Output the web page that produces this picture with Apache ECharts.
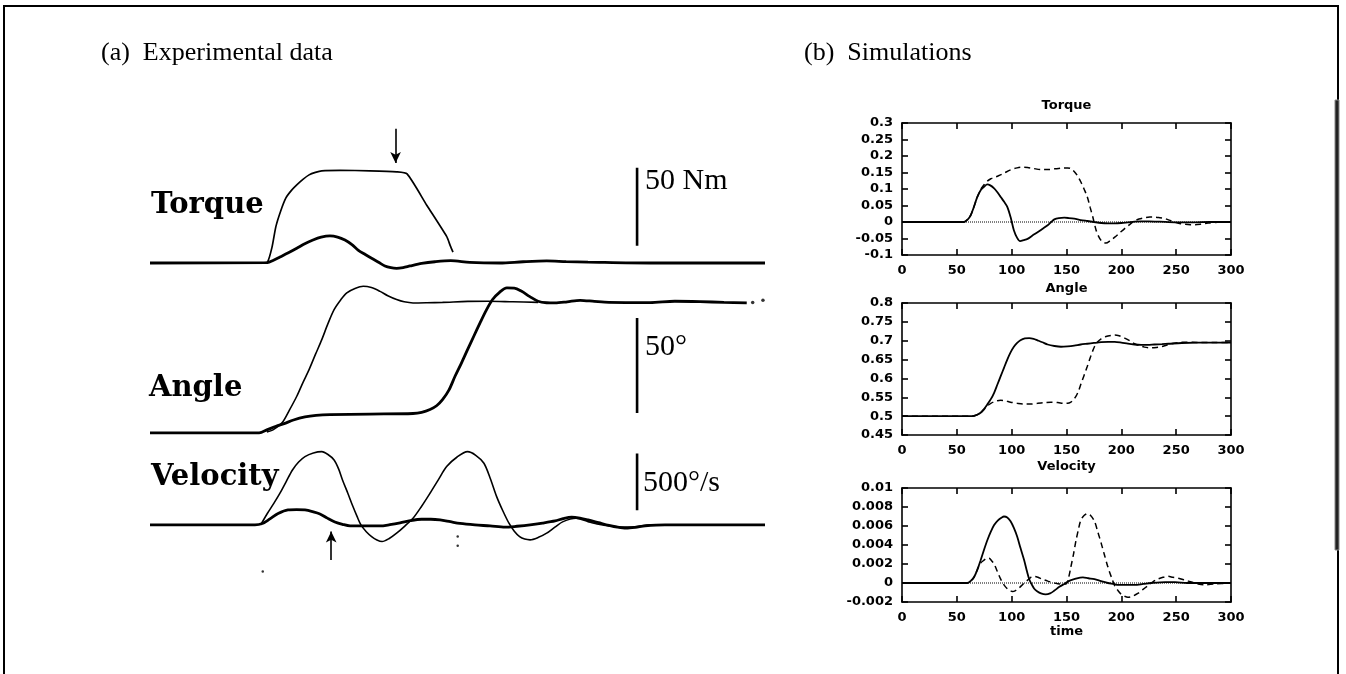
<!DOCTYPE html>
<html><head><meta charset="utf-8">
<script src="https://cdn.jsdelivr.net/npm/echarts@6/dist/echarts.min.js"></script>
<style>html,body{margin:0;padding:0;background:#fff}#c{width:1346px;height:674px}</style>
</head><body><div id="c"></div>
<script>
// ---------------- (b) Simulations : [time, value] ----------------
const simXTicks = [0, 50, 100, 150, 200, 250, 300];
const torqueTicks = [-0.1, -0.05, 0, 0.05, 0.1, 0.15, 0.2, 0.25, 0.3];
const angleTicks = [0.45, 0.5, 0.55, 0.6, 0.65, 0.7, 0.75, 0.8];
const velocityTicks = [-0.002, 0, 0.002, 0.004, 0.006, 0.008, 0.01];
const simZeroLine = [[0, 0], [300, 0]];

const simTorqueSolid = [[0,0],[56.5,0],[60,0.008],[62.6,0.02],[65.5,0.045],[68.7,0.076],[72,0.098],[74.8,0.107],[77.8,0.114],[80.5,0.111],[84,0.102],[87,0.09],[90,0.076],[93,0.062],[96,0.046],[99,0.015],[102,-0.025],[105,-0.048],[107.7,-0.058],[111,-0.055],[114.5,-0.051],[119,-0.041],[123.6,-0.031],[128,-0.021],[132.8,-0.01],[136,0.0],[138.9,0.008],[143,0.012],[148,0.013],[152,0.012],[157,0.010],[163,0.006],[169,0.003],[175,0],[181.6,-0.003],[188,-0.004],[194,-0.004],[200,-0.003],[206,-0.001],[212,0.001],[218,0.002],[225,0.002],[235,0.001],[249,-0.001],[265,-0.001],[280,0],[300,0]];
const simTorqueDashed = [[0,0],[56.5,0],[60,0.008],[62.6,0.02],[65.5,0.045],[68.7,0.076],[72,0.1],[74.8,0.113],[77.8,0.124],[81,0.131],[84,0.135],[88,0.14],[93,0.148],[99,0.158],[105,0.164],[110,0.166],[114.5,0.165],[120,0.162],[126.7,0.159],[133,0.159],[139,0.161],[145,0.163],[151,0.164],[154,0.162],[157,0.153],[160,0.14],[163,0.122],[166,0.1],[169,0.076],[171.5,0.045],[174,0.015],[177,-0.025],[179.5,-0.045],[181.6,-0.056],[184,-0.062],[186,-0.064],[190,-0.056],[194,-0.046],[198.5,-0.033],[203,-0.02],[207.5,-0.008],[212,0.003],[216,0.009],[221,0.013],[226,0.015],[230,0.015],[235,0.013],[240,0.01],[245,0.004],[249,-0.001],[254,-0.005],[258,-0.007],[263,-0.008],[267,-0.008],[273,-0.006],[279,-0.003],[288,-0.001],[300,0]];

const simAngleSolid = [[0,0.5],[64,0.5],[68,0.503],[71.7,0.509],[74.8,0.519],[77.8,0.531],[81,0.545],[84,0.562],[87,0.584],[90,0.606],[93,0.628],[96,0.65],[99,0.669],[102,0.684],[105,0.694],[108,0.701],[112,0.706],[116,0.707],[120,0.705],[123.6,0.701],[128,0.696],[132.8,0.690],[139,0.686],[145,0.684],[151,0.685],[157,0.687],[163,0.69],[169,0.692],[175,0.694],[181.6,0.696],[188,0.697],[194,0.697],[200,0.695],[206,0.692],[212,0.690],[218,0.689],[224,0.689],[230,0.69],[237,0.691],[243,0.692],[255,0.694],[270,0.695],[285,0.695],[300,0.695]];
const simAngleDashed = [[0,0.5],[64,0.5],[68,0.503],[71.7,0.509],[74.8,0.518],[77.8,0.527],[81,0.534],[84,0.538],[87,0.541],[90,0.542],[94,0.541],[99,0.537],[105,0.534],[111.4,0.532],[117,0.532],[123.6,0.534],[130,0.536],[135.8,0.537],[142,0.536],[148,0.534],[151,0.534],[154,0.537],[156.5,0.544],[158.7,0.553],[161,0.567],[163,0.584],[166,0.608],[169,0.632],[172,0.658],[175.5,0.684],[178.5,0.697],[181.6,0.705],[186,0.711],[190.8,0.714],[194,0.715],[198,0.713],[203,0.707],[207.5,0.700],[212,0.692],[216.5,0.687],[221,0.683],[227,0.681],[232,0.682],[236.5,0.684],[241,0.688],[245.7,0.692],[252,0.695],[258,0.696],[265,0.696],[273,0.695],[285,0.695],[300,0.695]];

const simVelocitySolid = [[0,0],[59.5,0],[62.5,0.0002],[65.6,0.0006],[68.7,0.0014],[71.7,0.0024],[74.8,0.0035],[77.8,0.0045],[81,0.0054],[84,0.0061],[87.5,0.0066],[91,0.0069],[93,0.007],[96,0.0069],[99,0.0065],[102,0.0058],[105,0.0049],[108,0.0037],[111.4,0.0024],[114,0.0012],[116,0.0004],[118.5,-0.0002],[120.6,-0.0006],[123.5,-0.0009],[126.7,-0.0011],[131,-0.0012],[135,-0.0011],[139,-0.0008],[143.5,-0.0004],[148,-0.0001],[152,0.0002],[157,0.0004],[165,0.0006],[170,0.0005],[175.5,0.0004],[181.5,0.0002],[187.7,0],[193,-0.0001],[197,-0.0002],[205,-0.0002],[212,-0.0002],[220,-0.0001],[227,0],[240,0.0001],[249,0.0001],[260,0],[300,0]];
const simVelocityDashed = [[0,0],[59.5,0],[62.5,0.0002],[65.6,0.0006],[68.7,0.0014],[71.7,0.0021],[74.8,0.0024],[77,0.0026],[79.4,0.0026],[82,0.0023],[84,0.002],[87,0.0012],[90,0.0004],[93,-0.0002],[96,-0.0006],[98.5,-0.0008],[100.7,-0.0009],[103.5,-0.0008],[107,-0.0005],[110.5,-0.0001],[114.5,0.0003],[117.5,0.0006],[120.6,0.0007],[124,0.0006],[128,0.0004],[133,0.0002],[139,0],[144,-0.0001],[149.6,-0.0001],[152,0.0006],[154,0.0017],[156.5,0.0031],[158.7,0.0045],[161,0.0057],[163,0.0066],[166,0.0071],[169,0.0073],[172,0.0071],[175.5,0.0065],[178.5,0.0054],[181.6,0.0042],[184.5,0.003],[187.7,0.0017],[191,0.0006],[194,-0.0003],[197,-0.0008],[200,-0.0012],[203,-0.0014],[206,-0.0015],[210,-0.0014],[215,-0.0011],[219.5,-0.0007],[224,-0.0003],[228.5,0.0001],[233,0.0004],[238,0.0006],[242.6,0.0007],[247,0.0006],[252,0.0005],[258,0.0003],[264,0.0001],[270,-0.0001],[276,-0.0002],[285,-0.0001],[300,0]];

// ---------------- (a) Experimental data : [time (record units 0-300), value] ----------------
// torque in Nm
const expTorqueLoaded = [[54.6,0],[57.3,0.6],[59.5,10],[61.4,23.3],[63.8,33.5],[66.3,41.7],[69,46.5],[71.6,50],[74.6,53.5],[77.6,56.4],[80.7,58],[83.8,59],[92.7,59.3],[107.3,59],[120.3,58.3],[125.4,57],[135,37],[144.7,17],[146.5,11],[147.8,7]];
const expTorqueFree = [[0,0],[57.3,0.3],[60,1.6],[63.4,3.8],[67.5,6.5],[71.6,9.4],[75.5,12.3],[79.5,14.7],[83.5,16.5],[87.8,17.3],[91.5,16.6],[95.1,14.7],[98.5,11.8],[101.5,8.3],[105,5.4],[108.1,3],[111.5,0.5],[114.6,-1.9],[117.5,-3],[120.3,-3.4],[123.5,-2.9],[126.8,-1.9],[132.5,-0.3],[139,0.8],[146.7,1.5],[156,0.4],[170.7,0],[182,0.8],[193.5,1.3],[203,0.9],[213.7,0.6],[243.9,0],[300,0]];
// angle in degrees
const expAngleFree = [[57,0.5],[60,1.6],[64.4,5.3],[68,12],[71.6,19.3],[74.6,26.5],[77.6,33.3],[80.7,41.3],[83.8,49.1],[86.8,57.5],[89.8,64.9],[93,70],[96,73.7],[100,76],[104,77.2],[108,76.5],[112.2,74.5],[116,72.2],[120.3,70.2],[124,69],[128.3,68.4],[135,68.5],[142.7,68.7],[155,69.2],[164.9,69.3],[177,69],[189.3,68.7]];
const expAngleLoaded = [[0,0],[53.2,0],[57.3,1.7],[61.5,3.5],[65.4,4.9],[70,6.8],[75.6,8.4],[81,9.2],[87.8,9.6],[107.3,9.9],[128.3,10.2],[132.5,10.8],[136.6,12.3],[139.8,14.3],[142.7,17.5],[145.8,22.5],[148.8,29.8],[151.8,36.5],[154.9,43.8],[158,51],[161,57.9],[164,64.5],[167.1,70.2],[170.5,74],[174.1,76.3],[177.7,76.2],[181.3,74.5],[185.3,71.7],[189.3,69.3],[193.5,68.5],[197.6,68.4],[203.5,69],[209.8,69.8],[216.8,69.2],[223.9,68.7],[243.9,68.6],[256,69.3],[268.3,69.1],[280,68.7],[291.1,68.4]];
const expAngleEndDots = [[294,68.6],[299,69.8]];
// velocity in deg/s
const expVelocityFree = [[54,0],[57.3,103],[60.4,190],[63.4,280],[66.5,385],[69.5,485],[72.5,555],[75.6,603],[79.7,635],[83.8,647],[86.8,622],[89.8,574],[92,495],[93.9,397],[96.5,280],[99,162],[101,75],[102.9,0],[105.5,-60],[108.1,-103],[110.7,-133],[113.2,-147],[116.7,-120],[120.3,-73],[124.3,-10],[128.3,59],[132.5,165],[136.6,280],[140.7,400],[144.7,515],[149.8,600],[154.9,647],[158.9,615],[162.9,545],[166,410],[169.1,250],[172.1,125],[175.1,15],[177.7,-55],[180.3,-103],[182.8,-125],[185.4,-132],[189.5,-110],[193.5,-73],[197.5,-20],[201.5,29],[207.8,59],[213.7,29],[218.8,5],[223.9,-9],[234.1,-20],[244.4,0],[255,0]];
const expVelocityLoaded = [[0,0],[51.2,0],[54.8,12],[58.5,53],[62.5,100],[67.3,132],[71.5,135],[75.6,132],[79.3,117],[82.9,97],[86.5,60],[90.2,26],[93.9,5],[97.6,-9],[112.2,-9],[117,2],[122,18],[127,38],[132.5,50],[137,50],[141.5,44],[146.5,28],[151.2,13],[158.5,0],[165.9,-9],[173.2,-20],[179,-12],[185.4,0],[191.5,16],[197.6,35],[201.5,55],[205.7,68],[209.7,60],[213.7,44],[218.8,20],[223.9,-4],[228,-20],[232.2,-29],[236.8,-22],[241.5,-9],[251.2,0],[300,0]];
const expVelocityMarks = [[55,-412],[150.1,-103],[150.1,-185]];

// arrows and scale bars (data units of each trace)
const torqueArrow = [[119.8, 86], [119.8, 64]];
const velocityArrow = [[88.4, -309], [88.4, -59]];
const scaleBarTime = 237.6;
const torqueScaleBar = [11, 61];      // 50 Nm
const angleScaleBar = [10.5, 60.5];   // 50 deg
const velocityScaleBar = [130, 630];  // 500 deg/s
const scaleLabels = ['50 Nm', '50°', '500°/s'];

// ---------------- chart ----------------
const chart = echarts.init(document.getElementById('c'), null, {renderer: 'canvas'});
const INK = '#000';
const simFont = {fontFamily: 'DejaVu Sans', fontWeight: 'bold', fontSize: 13, color: INK};

function step(t) { return +(t[1] - t[0]).toFixed(6); }

const grids = [
  {left: 150, top: 88, width: 615, height: 200},   // exp torque
  {left: 150, top: 279, width: 615, height: 171},  // exp angle
  {left: 150, top: 440, width: 615, height: 150},  // exp velocity
  {left: 902, top: 123, width: 329, height: 132},  // sim torque
  {left: 902, top: 303, width: 329, height: 132},  // sim angle
  {left: 902, top: 488, width: 329, height: 114}   // sim velocity
].map(g => Object.assign({outerBoundsMode: 'none', containLabel: false}, g));

const expY = [[-16, 112], [-9, 81], [-575, 750]];
const simY = [torqueTicks, angleTicks, velocityTicks];

const xAxes = [], yAxes = [];
for (let i = 0; i < 3; i++) {
  xAxes.push({type: 'value', gridIndex: i, min: 0, max: 300, show: false});
  yAxes.push({type: 'value', gridIndex: i, min: expY[i][0], max: expY[i][1], show: false});
}
const lineStyleAxis = {color: INK, width: 1.6};
for (let i = 0; i < 3; i++) {
  xAxes.push({
    type: 'value', gridIndex: 3 + i, position: 'bottom',
    min: simXTicks[0], max: simXTicks[simXTicks.length - 1], interval: step(simXTicks),
    axisLine: {show: true, onZero: false, lineStyle: lineStyleAxis},
    axisTick: {show: true, inside: true, length: 6, lineStyle: lineStyleAxis},
    axisLabel: Object.assign({margin: 9, hideOverlap: false}, simFont),
    splitLine: {show: false},
    name: i === 2 ? 'time' : '', nameLocation: 'middle', nameGap: 20,
    nameTextStyle: simFont
  });
}
for (let i = 0; i < 3; i++) {
  xAxes.push({
    type: 'value', gridIndex: 3 + i, position: 'top',
    min: simXTicks[0], max: simXTicks[simXTicks.length - 1], interval: step(simXTicks),
    axisLine: {show: true, onZero: false, lineStyle: lineStyleAxis},
    axisTick: {show: true, inside: true, length: 6, lineStyle: lineStyleAxis},
    axisLabel: {show: false}, splitLine: {show: false}
  });
}
for (let i = 0; i < 3; i++) {
  const t = simY[i];
  yAxes.push({
    type: 'value', gridIndex: 3 + i, position: 'left',
    min: t[0], max: t[t.length - 1], interval: step(t),
    axisLine: {show: true, onZero: false, lineStyle: lineStyleAxis},
    axisTick: {show: true, inside: true, length: 6, lineStyle: lineStyleAxis},
    axisLabel: Object.assign({margin: 9, hideOverlap: false}, simFont),
    splitLine: {show: false}
  });
}
for (let i = 0; i < 3; i++) {
  const t = simY[i];
  yAxes.push({
    type: 'value', gridIndex: 3 + i, position: 'right',
    min: t[0], max: t[t.length - 1], interval: step(t),
    axisLine: {show: true, onZero: false, lineStyle: lineStyleAxis},
    axisTick: {show: true, inside: true, length: 6, lineStyle: lineStyleAxis},
    axisLabel: {show: false}, splitLine: {show: false}
  });
}

function ln(data, axis, width, type, smooth, extra) {
  return Object.assign({
    type: 'line', data: data, xAxisIndex: axis, yAxisIndex: axis,
    showSymbol: false, symbol: 'none', smooth: smooth, silent: true, animation: false,
    lineStyle: {color: INK, width: width, type: type}
  }, extra || {});
}
function arrowMark(a) {
  return {markLine: {
    silent: true, animation: false, symbol: ['none', 'arrow'], symbolSize: [8, 11],
    label: {show: false}, lineStyle: {color: INK, width: 1.6, type: 'solid'},
    data: [[{coord: a[0]}, {coord: a[1]}]]
  }};
}
function bar(axis, range) {
  return ln([[scaleBarTime, range[0]], [scaleBarTime, range[1]]], axis, 2.6, 'solid', false);
}
const dash = [6, 4];

const series = [
  // experimental
  ln(expTorqueFree, 0, 2.8, 'solid', 0.3),
  ln(expTorqueLoaded, 0, 1.7, 'solid', 0.2, arrowMark(torqueArrow)),
  bar(0, torqueScaleBar),
  ln(expAngleLoaded, 1, 2.8, 'solid', 0.3),
  ln(expAngleFree, 1, 1.6, 'solid', 0.3),
  {type: 'scatter', data: expAngleEndDots, xAxisIndex: 1, yAxisIndex: 1, symbolSize: 3.5, itemStyle: {color: INK}, silent: true, animation: false},
  bar(1, angleScaleBar),
  ln(expVelocityLoaded, 2, 2.8, 'solid', 0.3),
  ln(expVelocityFree, 2, 1.6, 'solid', 0.3, arrowMark(velocityArrow)),
  {type: 'scatter', data: expVelocityMarks, xAxisIndex: 2, yAxisIndex: 2, symbolSize: 2.5, itemStyle: {color: INK}, silent: true, animation: false},
  bar(2, velocityScaleBar),
  // simulations
  ln(simZeroLine, 3, 1, 'dotted', false),
  ln(simTorqueDashed, 3, 1.5, dash, 0.3),
  ln(simTorqueSolid, 3, 1.8, 'solid', 0.3),
  ln(simAngleDashed, 4, 1.5, dash, 0.3),
  ln(simAngleSolid, 4, 1.8, 'solid', 0.3),
  ln(simZeroLine, 5, 1, 'dotted', false),
  ln(simVelocityDashed, 5, 1.5, dash, 0.3),
  ln(simVelocitySolid, 5, 1.8, 'solid', 0.3)
];

function txt(text, x, y, font, align) {
  return {type: 'text', x: x, y: y, silent: true,
    style: {text: text, font: font, fill: INK, align: align || 'left', verticalAlign: 'middle'}};
}
const serifBig = 'bold 29px "DejaVu Serif"';
const serifScale = '30px "Liberation Serif"';
const serifTitle = '26px "Liberation Serif"';
const sansTitle = 'bold 13px "DejaVu Sans"';

const graphic = [
  {type: 'rect', silent: true, shape: {x: 4, y: 6, width: 1334, height: 720}, style: {fill: 'none', stroke: INK, lineWidth: 2}},
  {type: 'rect', silent: true, shape: {x: 1335, y: 100, width: 4, height: 450}, style: {fill: '#222', stroke: '#888', lineWidth: 1}},
  txt('(a)  Experimental data', 101, 53, serifTitle),
  txt('(b)  Simulations', 804, 53, serifTitle),
  txt('Torque', 151, 205, serifBig),
  txt('Angle', 149, 388, serifBig),
  txt('Velocity', 151, 477, serifBig),
  txt(scaleLabels[0], 645, 181, serifScale),
  txt(scaleLabels[1], 645, 347, serifScale),
  txt(scaleLabels[2], 643, 483, serifScale),
  txt('Torque', 1066.5, 106, sansTitle, 'center'),
  txt('Angle', 1066.5, 289, sansTitle, 'center'),
  txt('Velocity', 1066.5, 467, sansTitle, 'center')
];

chart.setOption({
  backgroundColor: '#fff',
  animation: false,
  grid: grids,
  xAxis: xAxes,
  yAxis: yAxes,
  series: series,
  graphic: graphic
});
</script></body></html>
